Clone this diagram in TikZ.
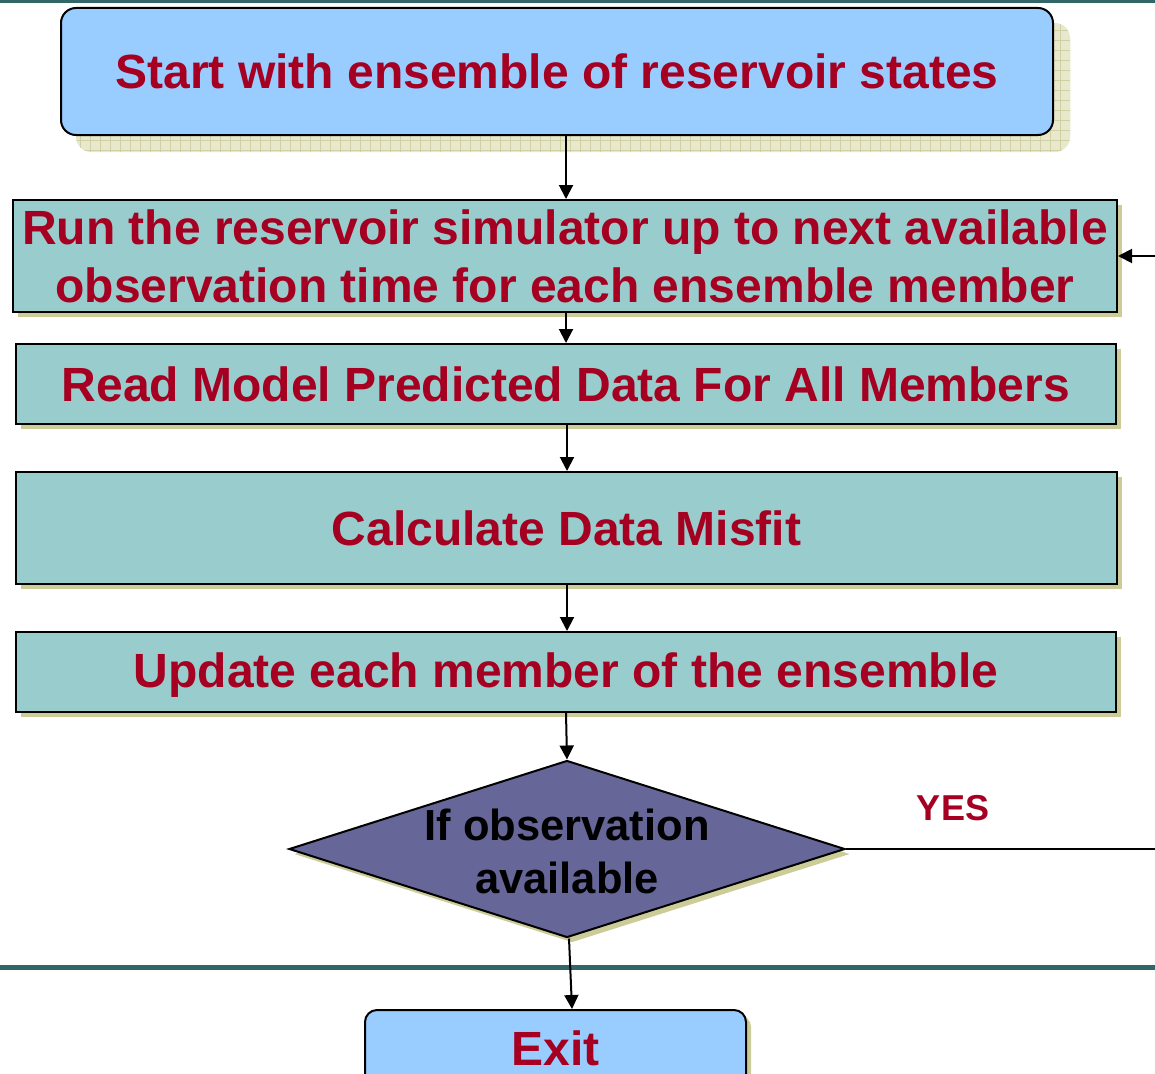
\documentclass[tikz,border=0pt]{standalone}
\usepackage{fontspec}
\setmainfont{Liberation Sans}
\usetikzlibrary{shapes.geometric,shadows,arrows.meta,backgrounds}
\definecolor{lblue}{HTML}{99CCFF}
\definecolor{tealbox}{HTML}{99CCCC}
\definecolor{purp}{HTML}{666699}
\definecolor{dred}{HTML}{A50021}
\definecolor{shad}{HTML}{CCCC99}
\definecolor{gridbg}{HTML}{E8E8CC}
\definecolor{gridln}{HTML}{D0D0A4}
\definecolor{rulec}{HTML}{336666}
\begin{document}
\begin{tikzpicture}[x=1pt,y=-1pt,
  box/.style={draw=black,line width=2pt,fill=tealbox,inner sep=0pt,align=center,
    text=dred,font=\bfseries\fontsize{48}{58}\selectfont,
    drop shadow={shadow xshift=5pt,shadow yshift=-5pt,fill=shad,opacity=1}},
  startbox/.style={draw=black,line width=2pt,fill=lblue,inner sep=0pt,align=center,
    text=dred,font=\bfseries\fontsize{48}{58}\selectfont,rounded corners=15pt},
  decision/.style={diamond,draw=black,line width=2pt,fill=purp,inner sep=0pt,
    drop shadow={shadow xshift=5pt,shadow yshift=-5pt,fill=shad,opacity=1}},
  conn/.style={draw=black,line width=2pt,-{Triangle[length=14pt,width=14pt]}},
  plain/.style={draw=black,line width=2pt}]
\useasboundingbox (0,0) rectangle (1155,1073);
\clip (0,0) rectangle (1155,1073);
% rules
\draw[rulec,line width=3pt] (0,1.5) -- (1155,1.5);
\draw[rulec,line width=5pt] (0,967) -- (1155,967);
% nodes
\node[startbox,minimum width=992pt,minimum height=127pt] (start) at (557,71.5) {Start with ensemble of reservoir states};
\begin{scope}[on background layer]
  \begin{scope}
    \clip[rounded corners=15pt] ([shift={(16,16)}]start.north west) rectangle ([shift={(16,16)}]start.south east);
    \fill[gridbg] (0,0) rectangle (1155,200);
    \draw[gridln,line width=0.8pt,step=10pt] (0,0) grid (1155,200);
  \end{scope}
\end{scope}
\node[box,minimum width=1104pt,minimum height=112pt] (run) at (565,256) {Run the reservoir simulator up to next available\\observation time for each ensemble member};
\node[box,minimum width=1100pt,minimum height=80pt] (read) at (566,384) {Read Model Predicted Data For All Members};
\node[box,minimum width=1101pt,minimum height=112pt] (calc) at (566.5,528) {Calculate Data Misfit};
\node[box,minimum width=1100pt,minimum height=80pt,text depth=3pt] (upd) at (566,672) {Update each member of the ensemble};
\node[decision,minimum width=556pt,minimum height=177pt] (dia) at (567,849) {};
\node[align=center,text=black,font=\bfseries\fontsize{43.5}{53}\selectfont] (diatext) at (567,851) {If observation\\available};
\node[text=dred,font=\bfseries\fontsize{36}{40}\selectfont] (yes) at (953,808) {YES};
\node[box,fill=lblue,rounded corners=12pt,minimum width=381pt,minimum height=76pt] (exit) at (555.5,1048) {Exit};
\coordinate (loopin) at (1155,256);
\coordinate (loopout) at (1155,849);
% connectors
\draw[conn] (start.south -| 566,0) -- (run.north -| 566,0);
\draw[conn] (run.south -| 566,0) -- (read.north -| 566,0);
\draw[conn] (read.south -| 567,0) -- (calc.north -| 567,0);
\draw[conn] (calc.south -| 567,0) -- (upd.north -| 567,0);
\draw[conn] (upd.south -| 566,0) -- (dia.north);
\draw[conn] ([xshift=2pt]dia.south) -- ([xshift=16.5pt]exit.north);
\draw[plain] (dia.east) -- (loopout);
\draw[conn] (loopin) -- (run.east);
\end{tikzpicture}
\end{document}
